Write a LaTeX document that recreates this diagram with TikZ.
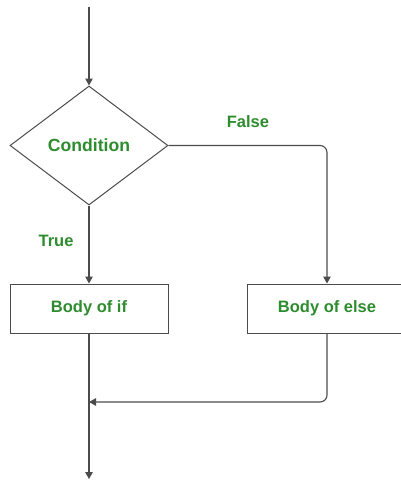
\documentclass[tikz,border=0pt]{standalone}
\usepackage{fontspec}
\setmainfont{Liberation Sans}
\usetikzlibrary{shapes.geometric,arrows.meta}
\definecolor{lbl}{RGB}{45,140,45}
\definecolor{ln}{RGB}{75,75,75}
\begin{document}
\begin{tikzpicture}[x=1pt,y=-1pt,
  lab/.style={text=lbl,font=\fontsize{16.5}{18}\selectfont\bfseries},
  conn/.style={draw=ln,line width=1.1pt,rounded corners=7pt,-{Triangle[length=7pt,width=7.5pt]}},
  box/.style={draw=ln,line width=1pt,minimum width=158pt,minimum height=49pt,inner sep=0pt,lab},
  dec/.style={draw=ln,line width=1pt,diamond,minimum width=158pt,minimum height=119pt,inner sep=0pt,lab,font=\fontsize{17.6}{19}\selectfont\bfseries}
]
\useasboundingbox (0,0) rectangle (401,482);
\clip (0,0) rectangle (401,482);
\coordinate (start) at (89,7);
\node[dec] (cond) at (89,145.5) {Condition};
\node[box] (ifb) at (89,308.5) {Body of if};
\node[box,minimum width=160pt] (elseb) at (327,308.5) {Body of else};
\coordinate (join) at (89,402);
\coordinate (end) at (89,479);
\draw[conn] (start) -- (cond.north);
\draw[conn] (cond.east) -| (elseb.north);
\draw[conn] (cond.south) -- (ifb.north);
\draw[conn] (elseb.south) |- (join);
\draw[conn] (ifb.south) -- (end);
\node[lab] (ftxt) at (248,122) {False};
\node[lab] (ttxt) at (56,241) {True};
\end{tikzpicture}
\end{document}
